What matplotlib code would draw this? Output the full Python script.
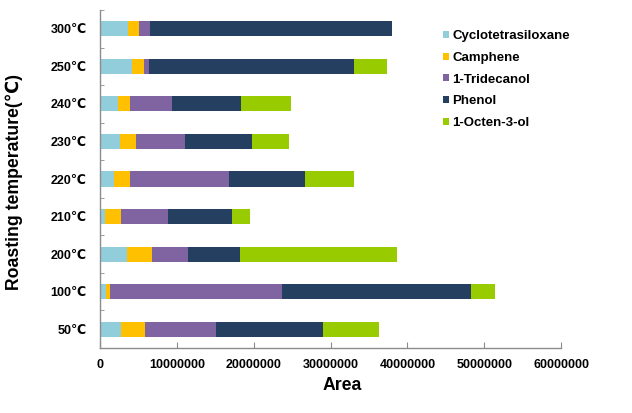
import matplotlib
matplotlib.use("Agg")
import matplotlib.pyplot as plt
import numpy as np

plt.rcParams["font.family"] = ["Liberation Sans", "DejaVu Sans"]
plt.rcParams["font.weight"] = "bold"

# categories from bottom to top
temps = ["50℃", "100℃", "200℃", "210℃", "220℃", "230℃", "240℃", "250℃", "300℃"]
compounds = ["Cyclotetrasiloxane", "Camphene", "1-Tridecanol", "Phenol", "1-Octen-3-ol"]

cyclo = [2.66e6, 0.74e6, 3.48e6, 0.60e6, 1.82e6, 2.60e6, 2.26e6, 4.17e6, 3.65e6]
camphene = [3.12e6, 0.52e6, 3.25e6, 2.13e6, 2.05e6, 2.09e6, 1.64e6, 1.56e6, 1.35e6]
tridecanol = [9.32e6, 22.36e6, 4.73e6, 6.05e6, 12.89e6, 6.38e6, 5.44e6, 0.60e6, 1.47e6]
phenol = [13.94e6, 24.68e6, 6.77e6, 8.41e6, 9.89e6, 8.68e6, 8.96e6, 26.70e6, 31.50e6]
octenol = [7.25e6, 3.10e6, 20.37e6, 2.26e6, 6.45e6, 4.85e6, 6.50e6, 4.30e6, 0.0]

colors = ["#92CDDC", "#FFC000", "#8064A2", "#243F60", "#99CC00"]
series = [cyclo, camphene, tridecanol, phenol, octenol]

fig = plt.figure(figsize=(6.32, 4.13), dpi=100)
ax = fig.add_axes([100.3 / 632, 1 - 348 / 413, (561 - 100.3) / 632, 338 / 413])

y = np.arange(len(temps))
left = np.zeros(len(temps))
for name, vals, c in zip(compounds, series, colors):
    vals = np.array(vals)
    ax.barh(y, vals, left=left, height=0.4, color=c, label=name)
    left += vals

ax.set_xlim(0, 60000000)
ax.set_ylim(-0.5, len(temps) - 0.5)
ax.set_xticks(np.arange(0, 60000001, 10000000))
ax.set_xticklabels([str(v) for v in range(0, 60000001, 10000000)])
ax.set_yticks(y)
ax.set_yticklabels(temps)
ax.set_yticks(np.arange(-0.5, len(temps), 1.0), minor=True)

for s in ["top", "right"]:
    ax.spines[s].set_visible(False)
for s in ["left", "bottom"]:
    ax.spines[s].set_color("#8C8C8C")
    ax.spines[s].set_linewidth(1.0)

ax.tick_params(axis="x", direction="in", length=4, color="#8C8C8C", labelsize=9, pad=8)
ax.tick_params(axis="y", which="major", length=0, labelsize=9, pad=10)
ax.tick_params(axis="y", which="minor", direction="in", length=3, color="#8C8C8C")

ax.set_xlabel("Area", fontsize=12.7, fontweight="bold")
ax.xaxis.set_label_coords(0.525, -0.085)
ax.set_ylabel("Roasting temperature(℃)", fontsize=12.7, fontweight="bold")
ax.yaxis.set_label_coords(-0.168, 0.49)

leg = ax.legend(loc="upper left", bbox_to_anchor=(443 / 632, 1 - 30 / 413),
                bbox_transform=fig.transFigure, frameon=False, fontsize=9.5,
                handlelength=0.45, handleheight=0.45, handletextpad=0.25,
                labelspacing=0.74, borderpad=0, borderaxespad=0)

fig.savefig("out.png", dpi=100)
